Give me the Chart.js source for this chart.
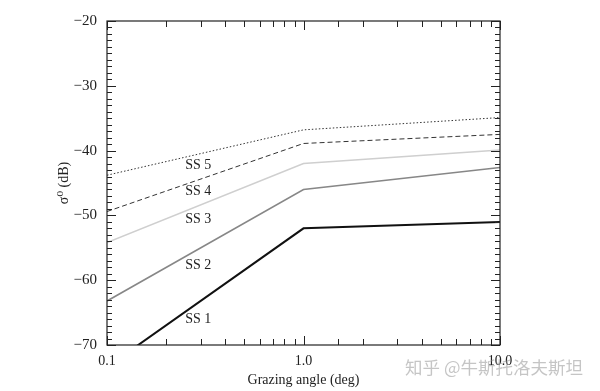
<!DOCTYPE html>
<html>
<head>
<meta charset="utf-8">
<script src="https://cdn.jsdelivr.net/npm/chart.js@4"></script>
<style>
  html, body { margin: 0; padding: 0; background: #fff; }
  #wrap { position: relative; width: 600px; height: 391px; }
  #mark { position: absolute; left: 405px; top: 354px; font: 17.5px "Noto Sans CJK SC", sans-serif; color: rgba(150,150,150,0.55); }
</style>
</head>
<body>
<div id="wrap">
  <canvas id="my-line-Chart" width="600" height="391"></canvas>
  <div id="mark">知乎 @牛斯托洛夫斯坦</div>
</div>
<script>
// grazing angle (deg), log axis
const angles = [0.1, 1.0, 10.0];
// sea state curves, sigma0 in dB
const ss1 = [-73.4, -52.0, -51.0];
const ss2 = [-63.2, -46.0, -42.6];
const ss3 = [-54.2, -42.0, -39.9];
const ss4 = [-49.4, -38.9, -37.5];
const ss5 = [-43.8, -36.8, -34.9];
const seriesNames = ["SS 1", "SS 2", "SS 3", "SS 4", "SS 5"];
// where the curve names sit (data units)
const labelX = [0.25, 0.25, 0.25, 0.25, 0.25];
const labelY = [-66.1, -57.7, -50.6, -46.3, -42.2];
const xTickLabels = { 0.1: "0.1", 1: "1.0", 10: "10.0" };

const serif = "'Liberation Serif', 'DejaVu Serif', serif";

const toPoints = (ys) => ys.map((y, i) => ({ x: angles[i], y: y }));

// inward ticks on all four sides, the frame, and the curve names
const framePlugin = {
  id: "frame",
  afterDraw(chart) {
    const ctx = chart.ctx;
    const area = chart.chartArea;
    const xs = chart.scales.x;
    const ys = chart.scales.y;
    ctx.save();
    ctx.strokeStyle = "#222";
    ctx.lineWidth = 1.2;
    ctx.strokeRect(area.left, area.top, area.right - area.left, area.bottom - area.top);

    ctx.lineWidth = 1;
    ctx.beginPath();
    ys.ticks.forEach((t) => {
      const py = Math.round(ys.getPixelForValue(t.value)) + 0.5;
      const len = t.value % 10 === 0 ? 9 : 5;
      ctx.moveTo(area.left, py);
      ctx.lineTo(area.left + len, py);
      ctx.moveTo(area.right, py);
      ctx.lineTo(area.right - len, py);
    });
    xs.ticks.forEach((t) => {
      const px = Math.round(xs.getPixelForValue(t.value)) + 0.5;
      const major = xTickLabels[t.value] !== undefined;
      const len = major ? 9 : 6;
      ctx.moveTo(px, area.bottom);
      ctx.lineTo(px, area.bottom - len);
      ctx.moveTo(px, area.top);
      ctx.lineTo(px, area.top + len);
    });
    ctx.stroke();

    ctx.fillStyle = "#222";
    ctx.font = "14px " + serif;
    ctx.textBaseline = "middle";
    seriesNames.forEach((name, i) => {
      ctx.fillText(name, xs.getPixelForValue(labelX[i]), ys.getPixelForValue(labelY[i]));
    });
    ctx.restore();
  },
};

const drawChart = () => {
  let ctx = document.querySelector("#my-line-Chart");

  const data = {
    datasets: [
      { label: "SS 1", data: toPoints(ss1), borderColor: "#111", borderWidth: 2 },
      { label: "SS 2", data: toPoints(ss2), borderColor: "#878787", borderWidth: 1.6 },
      { label: "SS 3", data: toPoints(ss3), borderColor: "#cfcfcf", borderWidth: 1.6 },
      { label: "SS 4", data: toPoints(ss4), borderColor: "#333", borderWidth: 1, borderDash: [5, 3] },
      { label: "SS 5", data: toPoints(ss5), borderColor: "#333", borderWidth: 1, borderDash: [1.5, 2] },
    ],
  };

  const config = {
    type: "line",
    data: data,
    options: {
      responsive: false,
      animation: false,
      layout: { padding: { left: 40, right: 100, top: 21, bottom: 0 } },
      elements: { point: { radius: 0 }, line: { tension: 0 } },
      plugins: { legend: { display: false }, tooltip: { enabled: false } },
      scales: {
        x: {
          type: "logarithmic",
          min: 0.1,
          max: 10,
          grid: { drawOnChartArea: false, drawTicks: false },
          border: { display: false },
          afterFit: (scale) => { scale.height = 46; },
          ticks: {
            autoSkip: false,
            maxRotation: 0,
            padding: 8,
            color: "#222",
            font: { family: serif, size: 14 },
            callback: (v) => xTickLabels[v] || "",
          },
          title: {
            display: true,
            text: "Grazing angle (deg)",
            color: "#222",
            font: { family: serif, size: 14 },
            padding: { top: 0, bottom: 2 },
          },
        },
        y: {
          min: -70,
          max: -20,
          grid: { drawOnChartArea: false, drawTicks: false },
          border: { display: false },
          afterFit: (scale) => { scale.width = 67; },
          ticks: {
            stepSize: 1,
            autoSkip: false,
            padding: 10,
            color: "#222",
            font: { family: serif, size: 15 },
            callback: (v) => (v % 10 === 0 ? "\u2212" + Math.abs(v) : ""),
          },
          title: {
            display: true,
            text: "\u03c3\u2070 (dB)",
            color: "#222",
            font: { family: serif, size: 14 },
            padding: { top: 16, bottom: 0 },
          },
        },
      },
    },
    plugins: [framePlugin],
  };

  let lineChart = new Chart(ctx, config);
};

drawChart();
</script>
</body>
</html>
